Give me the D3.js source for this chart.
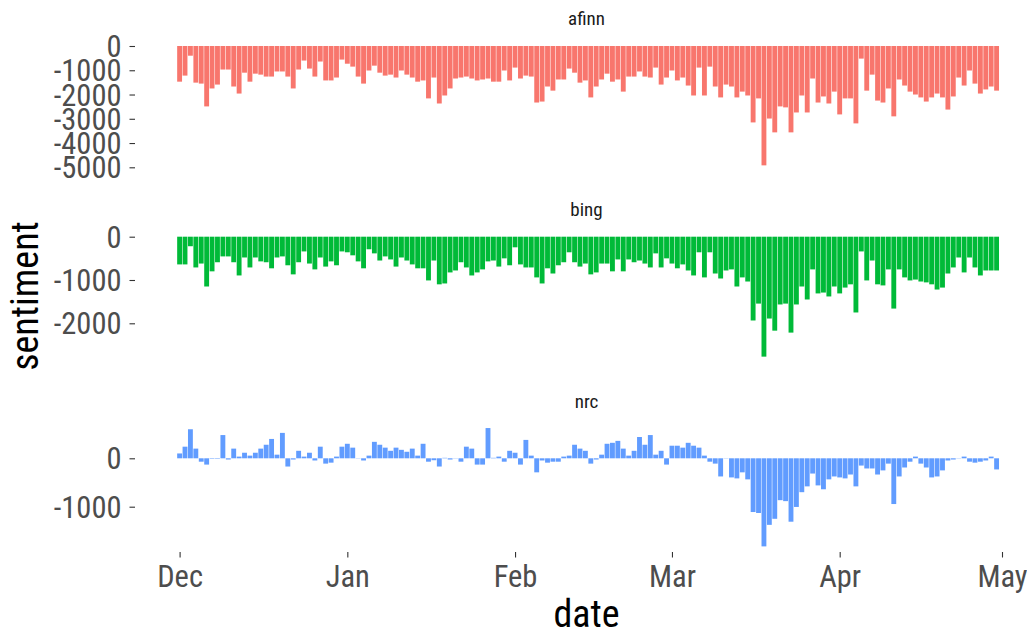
<!DOCTYPE html>
<html>
<head>
<meta charset="utf-8">
<script src="https://cdn.jsdelivr.net/npm/d3@7"></script>
<style>
  html, body { margin: 0; padding: 0; background: #ffffff; }
  svg { display: block; }
  text { font-family: "Roboto Condensed", "Liberation Sans Narrow", "Roboto", sans-serif; }
</style>
</head>
<body>
<svg id="chart" width="1027" height="631"></svg>
<script>
// ---------------- data ----------------
const startDate = "2019-12-01";
const endDate = "2020-05-01";
const monthTicks = ["2019-12-01", "2020-01-01", "2020-02-01", "2020-03-01", "2020-04-01", "2020-05-01"];
const lexicons = ["afinn", "bing", "nrc"];
const colors = ["#F8766D", "#00BA38", "#619CFF"];

const afinnValues = [
  -1470,-1220,-400,-1510,-1550,-2490,-1750,-1590,-970,-970,-1670,-1960,-1100,-1470,-1140,-1180,-1260,-1260,-1050,-1050,
  -1260,-1750,-970,-600,-930,-1260,-640,-1420,-1420,-1300,-560,-730,-850,-1260,-1550,-1010,-810,-1100,-1220,-1180,
  -1300,-1010,-1180,-1300,-1470,-1420,-2160,-1300,-2370,-2040,-1750,
  -1340,-1300,-1260,-1340,-1420,-1380,-1340,-1470,-1470,-1010,-1420,-890,-1340,-1220,-1260,-2330,-2290,-1670,-1840,-1380,
  -1380,-930,-1100,-1510,-1420,-2120,-1670,-1380,-1140,-1470,-1380,-1880,-1260,-1260,-1050,-1260,-1300,-890,-1590,-1300,
  -1010,-1420,-1300,-1630,-2040,-890,-2040,-850,-1670,-2120,-1590,
  -1670,-2120,-1880,-2040,-3150,-2160,-4920,-2990,-3560,-2490,-2530,-3560,-2740,-2040,-2740,-1340,-2330,-2080,-2370,-1880,
  -2820,-2160,-2160,-3190,-520,-1840,-1180,-2250,-2330,-1750,-2900,-1380,-1630,-1880,-2000,-2120,-2290,-2120,-1960,-2120,
  -2620,-2080,-1300,-1630,-1010,-1550,-1960,-1790,-1670,-1840
];
const bingValues = [
  -640,-640,-220,-710,-620,-1150,-800,-590,-455,-455,-590,-895,-480,-710,-480,-570,-590,-730,-480,-455,
  -660,-870,-590,-340,-620,-755,-480,-690,-570,-660,-340,-360,-430,-570,-730,-290,-385,-550,-455,-525,
  -690,-480,-550,-640,-730,-730,-1010,-550,-1100,-1080,-825,
  -780,-590,-710,-895,-825,-755,-570,-550,-690,-500,-660,-245,-640,-710,-710,-940,-1080,-730,-850,-660,
  -590,-360,-590,-690,-620,-870,-825,-620,-620,-800,-525,-800,-525,-590,-550,-620,-710,-385,-710,-500,
  -620,-730,-640,-780,-895,-360,-940,-360,-850,-965,-780,
  -755,-1150,-940,-1035,-1935,-1545,-2770,-1890,-2170,-1565,-1545,-2215,-1565,-1150,-1450,-755,-1310,-1290,-1380,-1150,
  -1310,-1175,-1100,-1750,-340,-1010,-550,-1100,-1125,-755,-1660,-755,-940,-1010,-990,-1035,-1055,-1100,-1220,-1175,
  -850,-710,-480,-825,-480,-710,-895,-780,-780,-780
];
const nrcValues = [
  100,240,600,200,-70,-130,-10,-10,480,-25,200,35,115,55,115,200,280,400,75,525,
  -170,-25,155,35,115,-45,240,-110,-90,35,240,300,220,5,-45,55,340,280,220,155,
  220,175,135,200,55,300,-70,-40,-170,10,-25,
  5,-70,240,200,-130,-130,625,10,35,-70,155,115,-130,380,55,-290,-45,-90,-70,-70,
  35,55,280,200,155,-110,-25,75,300,320,360,200,55,155,440,280,480,75,155,-130,
  260,260,220,320,260,220,55,-70,-110,-375,5,
  -395,-415,-290,-435,-1110,-1130,-1820,-1375,-1250,-865,-885,-1310,-1005,-700,-580,-315,-560,-640,-435,-375,
  -395,-415,-335,-580,-150,-210,-210,-335,-250,-110,-945,-375,-190,-70,35,-110,-190,-395,-375,-250,
  -45,-25,5,35,-70,-90,-70,-45,35,-230
];
const afinnTicks = [0, -1000, -2000, -3000, -4000, -5000];
const bingTicks = [0, -1000, -2000];
const nrcTicks = [0, -1000];

// ---------------- layout ----------------
const svg = d3.select("#chart");
const parse = d3.utcParse("%Y-%m-%d");
const dates = d3.utcDay.range(parse(startDate), parse(endDate));

const x = d3.scaleUtc()
  .domain([parse(startDate), parse(endDate)])
  .range([179.6, 1002]);
const dayW = x(d3.utcDay.offset(parse(startDate), 1)) - x(parse(startDate));
const barW = dayW * 0.9;

const panels = [
  { name: lexicons[0], values: afinnValues, ticks: afinnTicks, color: colors[0],
    domain: [0, -5000], range: [46, 167.3], stripY: 24.5 },
  { name: lexicons[1], values: bingValues, ticks: bingTicks, color: colors[1],
    domain: [0, -2000], range: [236.7, 323.3], stripY: 215.5 },
  { name: lexicons[2], values: nrcValues, ticks: nrcTicks, color: colors[2],
    domain: [0, -1000], range: [458.3, 506.7], stripY: 407.5 }
];

const panelCenterX = 586.5;
const yAxisX = 135;

panels.forEach(p => {
  const y = d3.scaleLinear().domain(p.domain).range(p.range);
  const g = svg.append("g");

  g.selectAll("rect")
    .data(dates.map((d, i) => ({ date: d, value: p.values[i] })))
    .join("rect")
    .attr("x", d => x(d.date) - barW / 2)
    .attr("width", barW)
    .attr("y", d => Math.min(y(0), y(d.value)))
    .attr("height", d => Math.abs(y(d.value) - y(0)))
    .attr("fill", p.color);

  const axis = d3.axisLeft(y)
    .tickValues(p.ticks)
    .tickFormat(d => String(d))
    .tickSize(5.5)
    .tickPadding(8);
  const ag = svg.append("g")
    .attr("transform", `translate(${yAxisX},0)`)
    .call(axis);
  ag.select(".domain").remove();
  ag.selectAll(".tick line").attr("stroke", "#333333").attr("stroke-width", 1.1);
  ag.selectAll(".tick text")
    .attr("fill", "#4D4D4D")
    .style("font-size", "30.5px")
    .attr("dy", "0.35em");

  svg.append("text")
    .attr("x", panelCenterX)
    .attr("y", p.stripY)
    .attr("text-anchor", "middle")
    .attr("fill", "#1A1A1A")
    .style("font-size", "19px")
    .text(p.name);
});

// x axis
const xAxis = d3.axisBottom(x)
  .tickValues(monthTicks.map(parse))
  .tickFormat(d3.utcFormat("%b"))
  .tickSize(5.5)
  .tickPadding(8);
const xg = svg.append("g")
  .attr("transform", "translate(0,552)")
  .call(xAxis);
xg.select(".domain").remove();
xg.selectAll(".tick line").attr("stroke", "#333333").attr("stroke-width", 1.1);
xg.selectAll(".tick text")
  .attr("fill", "#4D4D4D")
  .style("font-size", "30.5px");

// axis titles
svg.append("text")
  .attr("x", panelCenterX)
  .attr("y", 627)
  .attr("text-anchor", "middle")
  .attr("fill", "#000000")
  .style("font-size", "38px")
  .text("date");

svg.append("text")
  .attr("transform", "translate(38,296) rotate(-90)")
  .attr("text-anchor", "middle")
  .attr("fill", "#000000")
  .style("font-size", "38px")
  .text("sentiment");
</script>
</body>
</html>
